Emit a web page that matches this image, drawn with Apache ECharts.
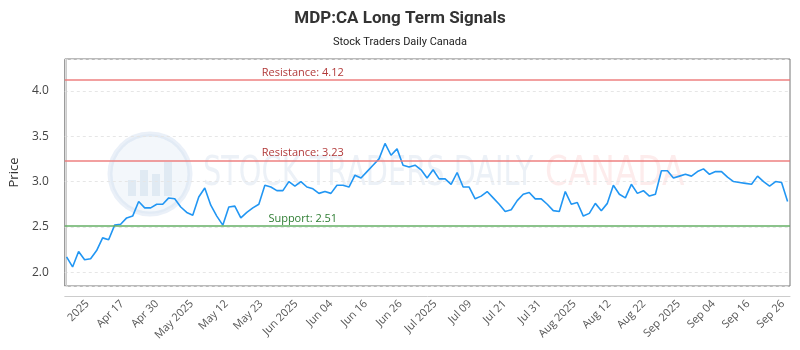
<!DOCTYPE html>
<html>
<head>
<meta charset="utf-8">
<title>MDP:CA Long Term Signals</title>
<script src="https://cdn.jsdelivr.net/npm/echarts@6/dist/echarts.min.js"></script>
<style>
  html, body { margin: 0; padding: 0; background: #fff; }
  #chart { width: 800px; height: 350px; }
</style>
</head>
<body>
<div id="chart"></div>
<script>
// closing prices, one per trading session
const prices = [
  2.17, 2.06, 2.23, 2.14, 2.15, 2.24, 2.38, 2.36, 2.52, 2.53,
  2.60, 2.62, 2.78, 2.71, 2.71, 2.75, 2.75, 2.82, 2.81, 2.72,
  2.66, 2.63, 2.83, 2.93, 2.74, 2.62, 2.52, 2.72, 2.73, 2.60,
  2.66, 2.71, 2.75, 2.96, 2.94, 2.90, 2.90, 3.00, 2.95, 3.00,
  2.94, 2.92, 2.87, 2.89, 2.87, 2.96, 2.96, 2.94, 3.07, 3.04,
  3.11, 3.18, 3.25, 3.42, 3.29, 3.36, 3.18, 3.16, 3.18, 3.13,
  3.04, 3.13, 3.03, 3.03, 2.97, 3.10, 2.94, 2.94, 2.81, 2.84,
  2.89, 2.82, 2.75, 2.67, 2.69, 2.79, 2.86, 2.88, 2.81, 2.81,
  2.75, 2.68, 2.67, 2.89, 2.75, 2.77, 2.62, 2.65, 2.76, 2.68,
  2.76, 2.96, 2.86, 2.82, 2.97, 2.87, 2.90, 2.84, 2.86, 3.12,
  3.12, 3.04, 3.06, 3.08, 3.06, 3.11, 3.14, 3.08, 3.11, 3.11,
  3.05, 3.00, 2.99, 2.98, 2.97, 3.06, 3.00, 2.95, 3.00, 2.99,
  2.78
]
const tickLabels = [
  '2025', 'Apr 17', 'Apr 30', 'May 2025', 'May 12', 'May 23', 'Jun 2025',
  'Jun 04', 'Jun 16', 'Jun 26', 'Jul 2025', 'Jul 09', 'Jul 21', 'Jul 31',
  'Aug 2025', 'Aug 12', 'Aug 22', 'Sep 2025', 'Sep 04', 'Sep 16', 'Sep 26'
]
const resistanceLevels = [4.12, 3.23]
const supportLevels = [2.51]

const chart = echarts.init(document.getElementById('chart'), null, { renderer: 'canvas' })

const lineLabel = (color) => ({
  show: true,
  position: 'insideStartTop',
  distance: [238, 2],
  align: 'center',
  color: color,
  fontFamily: 'Open Sans',
  fontSize: 11
})

const logoBar = (x, y, h) => ({
  type: 'rect',
  shape: { x: x, y: y, width: 8, height: h },
  style: { fill: 'rgba(190,208,230,0.35)' }
})

const option = {
  animation: false,
  title: [{
    text: 'MDP:CA Long Term Signals',
    left: 'center',
    top: 5,
    textStyle: { fontFamily: 'Roboto', fontSize: 17, fontWeight: 'bold', color: '#333' }
  }, {
    text: 'Stock Traders Daily Canada',
    left: 'center',
    top: 32,
    textStyle: { fontFamily: 'Roboto', fontSize: 11, fontWeight: 'normal', color: '#222' }
  }],
  graphic: [{
    type: 'group',
    silent: true,
    z: 0,
    children: [{
      type: 'circle',
      shape: { cx: 150, cy: 174, r: 40 },
      style: { fill: 'rgba(215,228,242,0.3)', stroke: 'rgba(195,212,234,0.35)', lineWidth: 5 }
    },
    logoBar(128, 180, 16),
    logoBar(140, 170, 26),
    logoBar(152, 174, 22),
    logoBar(164, 162, 34),
    {
      type: 'text',
      x: 203,
      y: 175,
      scaleX: 0.72,
      style: {
        text: 'STOCK TRADERS DAILY',
        fontFamily: 'DejaVu Sans', fontSize: 40,
        fill: 'rgba(160,185,215,0.2)', verticalAlign: 'middle'
      }
    }, {
      type: 'text',
      x: 545,
      y: 175,
      scaleX: 0.82,
      style: {
        text: 'CANADA',
        fontFamily: 'DejaVu Sans', fontSize: 40,
        fill: 'rgba(245,160,160,0.2)', verticalAlign: 'middle'
      }
    }]
  }],
  grid: {
    left: 63, right: 10, top: 59, bottom: 64,
    show: true,
    borderColor: '#777',
    borderWidth: 1,
    backgroundColor: 'transparent'
  },
  xAxis: [{
    type: 'value',
    min: -0.3,
    max: 120.4,
    show: false
  }, {
    type: 'value',
    position: 'bottom',
    min: -0.651,
    max: 20.2,
    minInterval: 1,
    maxInterval: 1,
    offset: 10,
    axisLine: { show: true, lineStyle: { color: '#ccc' } },
    axisTick: { show: false },
    splitLine: { show: false },
    axisLabel: {
      rotate: 45,
      margin: 6,
      color: '#555',
      fontFamily: 'Open Sans',
      fontSize: 11,
      showMinLabel: false,
      showMaxLabel: false,
      formatter: (v) => {
        const k = Math.round(v)
        return Math.abs(v - k) < 1e-6 && tickLabels[k] ? tickLabels[k] : ''
      }
    }
  }],
  yAxis: {
    type: 'value',
    name: 'Price',
    nameLocation: 'middle',
    nameGap: 32,
    nameTextStyle: { fontFamily: 'Open Sans', fontSize: 13, color: '#333' },
    min: 1.85,
    max: 4.35,
    minInterval: 0.5,
    maxInterval: 0.5,
    offset: 10,
    axisLine: { show: true, lineStyle: { color: '#ccc' } },
    axisTick: { show: false },
    axisLabel: {
      margin: 6,
      color: '#444',
      fontFamily: 'Open Sans',
      fontSize: 12,
      showMinLabel: false,
      showMaxLabel: false,
      formatter: (v) => v.toFixed(1)
    },
    splitLine: { show: true, lineStyle: { color: '#e6e6e6', type: [3, 3] } }
  },
  series: [{
    type: 'line',
    xAxisIndex: 0,
    data: prices.map((v, i) => [i, v]),
    showSymbol: false,
    lineStyle: { color: '#2196f3', width: 1.6 },
    itemStyle: { color: '#2196f3' },
    z: 3,
    markLine: {
      silent: true,
      symbol: 'none',
      data: [
        ...resistanceLevels.map(v => ({
          yAxis: v,
          lineStyle: { color: 'rgba(236,120,120,0.7)', width: 2, type: 'solid' },
          label: { ...lineLabel('#b23a3a'), formatter: 'Resistance: ' + v.toFixed(2) }
        })),
        ...supportLevels.map(v => ({
          yAxis: v,
          lineStyle: { color: 'rgba(100,175,100,0.75)', width: 2, type: 'solid' },
          label: { ...lineLabel('#2e7d32'), formatter: 'Support: ' + v.toFixed(2) }
        }))
      ]
    }
  }]
}

chart.setOption(option)
window.addEventListener('resize', () => chart.resize())
</script>
</body>
</html>
